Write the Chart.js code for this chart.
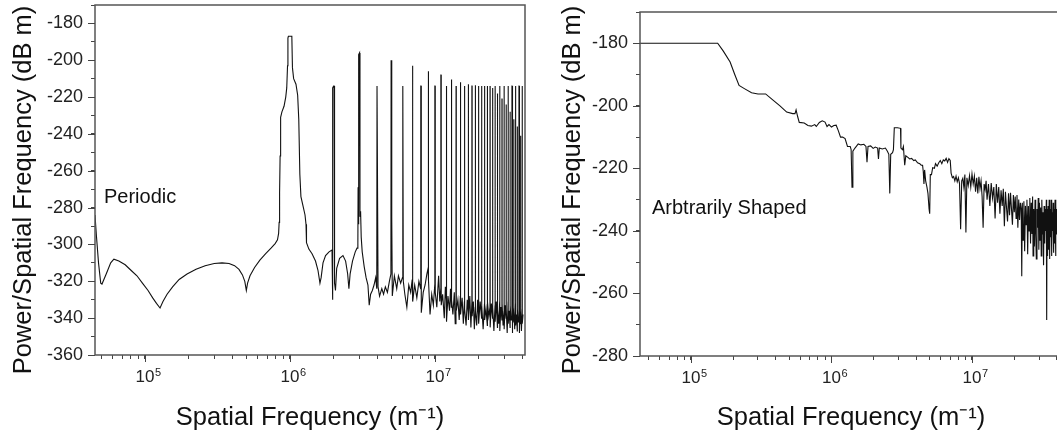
<!DOCTYPE html>
<html>
<head>
<meta charset="utf-8">
<script src="https://cdn.jsdelivr.net/npm/chart.js@4.4.1/dist/chart.umd.min.js"></script>
<style>
  html, body { margin: 0; padding: 0; background: #fff; overflow: hidden; width: 1057px; height: 439px; }
  canvas { position: absolute; top: 0; }
  #periodicChart { left: 0; }
  #shapedChart { left: 527px; }
</style>
</head>
<body>
<canvas id="periodicChart" width="532" height="439"></canvas>
<canvas id="shapedChart" width="545" height="439"></canvas>
<script>
// tick positions on the log axis (minor ticks 2..9 per decade) and the decade labels
const xTickValues = [5e4, 6e4, 7e4, 8e4, 9e4, 1e5, 2e5, 3e5, 4e5, 5e5, 6e5, 7e5, 8e5, 9e5,
  1e6, 2e6, 3e6, 4e6, 5e6, 6e6, 7e6, 8e6, 9e6, 1e7, 2e7, 3e7, 4e7];
const decadeValues = [1e5, 1e6, 1e7];
const decadeExponents = ["5", "6", "7"];

// left panel: periodic surface (spatial frequency in m^-1, power in dB m)
const periodicFreq = [
  4.52e4, 4.62e4, 4.78e4, 4.95e4, 5.05e4, 5.4e4, 5.8e4, 6.1e4, 6.6e4, 7.3e4, 8.0e4, 8.8e4, 9.6e4,
  1.05e5, 1.13e5, 1.2e5, 1.27e5, 1.33e5, 1.42e5, 1.55e5, 1.72e5, 1.95e5, 2.25e5, 2.6e5, 3.0e5, 3.4e5,
  3.8e5, 4.15e5, 4.45e5, 4.7e5, 4.88e5, 5.0e5, 5.1e5, 5.3e5, 5.7e5, 6.2e5, 6.8e5, 7.4e5, 7.9e5, 8.2e5,
  8.35e5, 8.42e5, 8.48e5, 8.55e5, 8.62e5, 8.8e5, 9.1e5, 9.35e5, 9.5e5, 9.62e5, 9.68e5, 9.75e5,
  1.03e6, 1.04e6, 1.06e6, 1.1e6, 1.13e6, 1.15e6, 1.17e6, 1.19e6, 1.23e6, 1.27e6, 1.29e6, 1.3e6,
  1.35e6, 1.42e6, 1.5e6, 1.56e6, 1.61e6, 1.64e6, 1.69e6, 1.76e6, 1.86e6, 1.95e6,
  1.965e6, 1.975e6, 2.0e6, 2.015e6, 2.03e6, 2.06e6, 2.1e6, 2.2e6, 2.32e6, 2.42e6, 2.5e6, 2.55e6,
  2.6e6, 2.7e6, 2.82e6, 2.9e6, 2.94e6, 2.95e6, 2.97e6, 2.985e6, 3.02e6, 3.04e6, 3.07e6, 3.1e6,
  3.15e6, 3.25e6, 3.35e6, 3.45e6, 3.52e6, 3.6e6, 3.7e6, 3.8e6, 3.9e6, 3.97e6,
  3.985e6, 4.02e6, 4.05e6, 4.15e6, 4.3e6, 4.42e6, 4.55e6, 4.7e6, 4.85e6, 4.97e6,
  4.985e6, 5.02e6, 5.05e6, 5.08e6, 5.25e6, 5.45e6, 5.6e6, 5.8e6, 5.97e6,
  5.985e6, 6.02e6, 6.05e6, 6.2e6, 6.4e6, 6.6e6, 6.8e6, 6.97e6,
  6.985e6, 7.02e6, 7.05e6, 7.25e6, 7.5e6, 7.75e6, 7.97e6,
  7.985e6, 8.02e6, 8.05e6, 8.3e6, 8.55e6, 8.8e6, 8.97e6,
  8.985e6, 9.02e6, 9.05e6, 9.25e6, 9.5e6, 9.75e6, 9.97e6,
  9.985e6, 1.002e7, 1.005e7, 1.03e7, 1.06e7, 1.08e7, 1.097e7,
  1.0985e7, 1.102e7, 1.105e7, 1.13e7, 1.16e7, 1.18e7, 1.197e7,
  1.1985e7, 1.202e7, 1.205e7, 1.23e7, 1.26e7, 1.28e7, 1.297e7,
  1.2985e7, 1.302e7, 1.305e7, 1.33e7, 1.36e7, 1.38e7, 1.397e7,
  1.3985e7, 1.402e7, 1.405e7, 1.44e7, 1.47e7, 1.497e7,
  1.4985e7, 1.502e7, 1.505e7, 1.54e7, 1.57e7, 1.597e7,
  1.5985e7, 1.602e7, 1.605e7, 1.64e7, 1.67e7, 1.697e7,
  1.6985e7, 1.702e7, 1.705e7, 1.74e7, 1.77e7, 1.797e7,
  1.7985e7, 1.802e7, 1.805e7, 1.84e7, 1.87e7, 1.897e7,
  1.8985e7, 1.902e7, 1.905e7, 1.94e7, 1.97e7, 1.997e7,
  1.9985e7, 2.002e7, 2.005e7, 2.05e7, 2.097e7,
  2.0985e7, 2.102e7, 2.105e7, 2.15e7, 2.197e7,
  2.1985e7, 2.202e7, 2.205e7, 2.25e7, 2.297e7,
  2.2985e7, 2.302e7, 2.305e7, 2.35e7, 2.397e7,
  2.3985e7, 2.402e7, 2.405e7, 2.45e7, 2.497e7,
  2.4985e7, 2.502e7, 2.505e7, 2.55e7, 2.597e7,
  2.5985e7, 2.602e7, 2.605e7, 2.65e7, 2.697e7,
  2.6985e7, 2.702e7, 2.705e7, 2.75e7, 2.797e7,
  2.7985e7, 2.802e7, 2.805e7, 2.85e7, 2.897e7,
  2.8985e7, 2.902e7, 2.905e7, 2.95e7, 2.997e7,
  2.9985e7, 3.002e7, 3.005e7, 3.05e7, 3.097e7,
  3.0985e7, 3.102e7, 3.105e7, 3.15e7, 3.197e7,
  3.1985e7, 3.202e7, 3.205e7, 3.25e7, 3.297e7,
  3.2985e7, 3.302e7, 3.305e7, 3.35e7, 3.397e7,
  3.3985e7, 3.402e7, 3.405e7, 3.45e7, 3.497e7,
  3.4985e7, 3.502e7, 3.505e7, 3.55e7, 3.597e7,
  3.5985e7, 3.602e7, 3.605e7, 3.65e7, 3.697e7,
  3.6985e7, 3.702e7, 3.705e7, 3.75e7, 3.797e7,
  3.7985e7, 3.802e7, 3.805e7, 3.85e7, 3.897e7,
  3.8985e7, 3.902e7, 3.905e7, 3.95e7, 3.997e7,
  3.9985e7, 4.002e7, 4.005e7, 4.05e7
];
const periodicPower = [
  -284, -295, -310, -321, -321.5, -316, -310, -308, -309, -311, -314, -317, -321,
  -325, -329, -332, -334.5, -331, -327, -323, -319, -316, -313.5, -311.5, -310.3, -310,
  -310.3, -311.5, -313.5, -316.5, -320, -325, -321, -317, -312.5, -308.5, -305, -302, -299.5, -297.5,
  -294, -288, -272, -252, -231, -228, -225, -220, -215, -203, -188, -187,
  -187, -204, -210, -213, -219, -232, -262, -274, -279, -284, -289, -299,
  -302.5, -305, -309, -314, -321, -318, -310, -306, -304, -303,
  -330, -215, -214, -214, -321, -325, -313, -307.5, -306, -309, -316, -324,
  -316, -309, -304, -302, -299, -269, -289, -197, -196, -285, -282, -296,
  -304, -312, -318, -322, -333, -327, -325, -322, -318, -324,
  -214, -214, -323, -328, -324, -327, -323, -326, -320, -316,
  -200, -200, -285, -328, -317, -324, -317, -321, -318,
  -214, -214, -320, -327, -334, -322, -326, -319,
  -203, -203, -331, -322, -329, -320, -324,
  -214, -214, -337, -326, -322, -316, -313,
  -206, -206, -319, -338, -327, -333, -322,
  -214, -214, -326, -334, -317, -331, -324,
  -208, -208, -333, -327, -340, -323, -330,
  -214, -214, -342, -328, -336, -324, -334,
  -210.5, -210.5, -330, -338, -326, -343, -327,
  -214, -214, -336, -330, -341, -328,
  -212, -212, -338, -329, -343, -331,
  -214, -214, -335, -344, -330, -337,
  -213, -213, -341, -328, -345, -332,
  -214, -214, -339, -331, -346, -334,
  -213.5, -213.5, -336, -344, -330, -338,
  -214, -214, -343, -331, -340,
  -214, -214, -333, -346, -332,
  -214, -214, -341, -335, -344,
  -214, -214, -331, -339, -334,
  -214, -214, -345, -332, -340,
  -215, -215, -334, -347, -333,
  -214, -214, -342, -331, -345,
  -218, -218, -336, -343, -331,
  -214, -214, -347, -334, -341,
  -221, -221, -332, -344, -336,
  -214, -214, -346, -333, -340,
  -224, -224, -335, -348, -331,
  -214, -214, -343, -336, -345,
  -228, -228, -333, -341, -337,
  -214, -214, -348, -334, -342,
  -232, -232, -336, -346, -332,
  -214, -214, -344, -338, -347,
  -236, -236, -335, -342, -339,
  -214, -214, -348, -336, -343,
  -241, -241, -337, -347, -335,
  -214, -214, -343, -338
];

// right panel: arbitrarily shaped surface
const shapedFreq = [
  4.3e4, 1.0e5, 1.55e5, 1.7e5, 1.9e5, 2.05e5, 2.2e5, 2.4e5, 2.7e5, 3.0e5, 3.4e5, 3.8e5, 4.3e5, 4.8e5,
  5.3e5, 5.5e5, 5.6e5, 5.75e5, 5.9e5, 6.4e5, 6.8e5, 7.2e5, 7.6e5, 7.8e5, 8.2e5, 8.6e5, 9.0e5, 9.3e5,
  9.6e5, 1.0e6, 1.04e6, 1.08e6, 1.12e6, 1.16e6, 1.2e6, 1.25e6, 1.3e6, 1.36e6, 1.38e6, 1.4e6, 1.42e6,
  1.47e6, 1.55e6, 1.62e6, 1.7e6, 1.76e6, 1.79e6, 1.82e6, 1.9e6, 1.98e6, 2.05e6, 2.13e6, 2.16e6, 2.19e6,
  2.3e6, 2.42e6, 2.5e6, 2.56e6, 2.6e6, 2.64e6, 2.72e6, 2.76e6, 2.8e6, 2.95e6, 3.1e6, 3.12e6, 3.2e6,
  3.25e6, 3.32e6, 3.38e6, 3.5e6, 3.6e6, 3.72e6, 3.85e6, 3.95e6, 4.1e6, 4.25e6, 4.35e6, 4.45e6, 4.5e6,
  4.55e6, 4.6e6, 4.68e6, 4.78e6, 4.86e6, 4.95e6, 5.0e6, 5.05e6, 5.15e6, 5.25e6, 5.4e6, 5.5e6, 5.65e6,
  5.8e6, 5.95e6, 6.1e6, 6.25e6, 6.4e6, 6.55e6, 6.7e6, 6.85e6, 7.0e6, 7.1e6, 7.25e6, 7.4e6, 7.55e6,
  7.7e6, 7.85e6, 8.0e6, 8.15e6, 8.3e6, 8.45e6, 8.6e6, 8.75e6, 8.9e6, 9.05e6, 9.2e6, 9.4e6, 9.6e6,
  9.8e6, 1.0e7, 1.02e7, 1.04e7, 1.06e7, 1.08e7, 1.1e7, 1.12e7, 1.14e7, 1.16e7, 1.18e7, 1.2e7, 1.22e7,
  1.24e7, 1.26e7, 1.28e7, 1.31e7, 1.34e7, 1.37e7, 1.4e7, 1.43e7, 1.46e7, 1.49e7, 1.52e7, 1.55e7,
  1.58e7, 1.61e7, 1.64e7, 1.67e7, 1.7e7, 1.73e7, 1.76e7, 1.79e7, 1.82e7, 1.85e7, 1.88e7, 1.91e7,
  1.94e7, 1.97e7, 2.0e7, 2.03e7, 2.06e7, 2.09e7, 2.12e7, 2.15e7, 2.18e7, 2.21e7, 2.24e7, 2.26e7,
  2.28e7, 2.31e7, 2.34e7, 2.37e7, 2.4e7, 2.43e7, 2.46e7, 2.49e7, 2.52e7, 2.55e7, 2.58e7, 2.61e7,
  2.64e7, 2.67e7, 2.7e7, 2.72e7, 2.75e7, 2.78e7, 2.81e7, 2.84e7, 2.87e7, 2.9e7, 2.93e7, 2.96e7,
  2.99e7, 3.02e7, 3.05e7, 3.08e7, 3.11e7, 3.14e7, 3.17e7, 3.2e7, 3.23e7, 3.26e7, 3.29e7, 3.32e7,
  3.35e7, 3.38e7, 3.4e7, 3.42e7, 3.45e7, 3.48e7, 3.51e7, 3.54e7, 3.57e7, 3.6e7, 3.63e7, 3.66e7,
  3.69e7, 3.72e7, 3.75e7, 3.78e7, 3.81e7, 3.84e7, 3.87e7, 3.9e7, 3.93e7, 3.96e7, 3.99e7, 4.02e7,
  4.06e7, 4.1e7, 4.15e7, 4.2e7, 4.3e7
];
const shapedPower = [
  -180, -180, -180, -182.5, -186, -190, -193.5, -194.5, -195.8, -196.2, -196.2, -198, -200, -202,
  -202.5, -202.5, -201.3, -203.5, -205.3, -205.5, -206.3, -206.5, -206, -206.6, -205.3, -204.8, -205.2, -206.6,
  -206, -206.8, -206.3, -206.2, -208, -210, -210, -210.5, -213, -213, -214, -226, -214.5,
  -213.5, -212.2, -212.5, -212.3, -213, -218, -213, -212.8, -213.6, -213.2, -213.5, -217, -213.5,
  -213.8, -213.5, -214.5, -215.5, -228, -215.5, -215, -214, -207, -207, -207.2, -213.5, -214,
  -213, -219, -216, -216.5, -217, -216.8, -217.5, -217.3, -218.2, -218.5, -219, -219, -221,
  -225, -220.5, -224, -226, -228, -233, -234.5, -222, -222, -219.8, -220, -218.5, -219.3,
  -218.2, -217.5, -218.5, -217.3, -217.6, -216.8, -218.1, -216.9, -217.5, -221.5, -223, -222.6, -224,
  -222.5, -224.3, -223, -224.8, -239.5, -224, -223.2, -226, -222, -240.5, -223, -225.5, -222.3,
  -226, -221.8, -225, -222.5, -227.5, -223, -228, -222.7, -226.5, -224, -229, -239, -225,
  -226.8, -224, -230, -225, -232, -224.7, -229.5, -226, -236, -225, -231, -226,
  -234.5, -227, -232, -226.5, -238.5, -227.5, -232.5, -237, -228, -235, -227.8, -233,
  -238, -228.5, -234, -229, -236, -228.5, -239, -230, -236.5, -231, -233, -254.5,
  -231, -243, -230.5, -246.5, -232, -238, -230, -247.5, -232, -240, -229.5, -244,
  -231, -241, -229, -248, -233, -245, -230, -241, -249, -233, -239, -229.5,
  -246, -231, -243, -232.5, -248, -230, -241, -234, -251, -232, -244, -233,
  -240, -230, -268.5, -233, -248, -232, -246, -230, -249, -233, -242, -230,
  -248, -234, -240, -231, -247, -233, -244, -230, -248, -232, -241, -233,
  -236, -229, -240, -233, -236
];

const fontFamily = '"Liberation Sans", Arial, Helvetica, sans-serif';
const yTitle = "Power/Spatial Frequency (dB m)";
Chart.defaults.font.family = fontFamily;

// closed frame, longer major ticks, decade exponents, y title and the panel caption
function framePlugin(cfg) {
  return {
    id: "frame",
    afterDraw(chart) {
      const { ctx, chartArea } = chart;
      const xs = chart.scales.x;
      const ys = chart.scales.y;
      ctx.save();
      ctx.strokeStyle = "#555";
      ctx.lineWidth = 1.5;
      ctx.strokeRect(chartArea.left, chartArea.top, chartArea.right - chartArea.left, chartArea.bottom - chartArea.top);

      ctx.strokeStyle = "#444";
      ctx.lineWidth = 1;
      ctx.beginPath();
      decadeValues.forEach((v) => {
        const px = Math.round(xs.getPixelForValue(v)) + 0.5;
        ctx.moveTo(px, chartArea.bottom);
        ctx.lineTo(px, chartArea.bottom + 7);
      });
      ys.ticks.forEach((t) => {
        if (t.value % 20 !== 0) return;
        const py = Math.round(ys.getPixelForValue(t.value)) + 0.5;
        ctx.moveTo(chartArea.left - 7, py);
        ctx.lineTo(chartArea.left, py);
      });
      ctx.stroke();

      ctx.fillStyle = "#222";
      ctx.font = "17px " + fontFamily;
      const half = ctx.measureText("10").width / 2;
      ctx.font = "11px " + fontFamily;
      ctx.textAlign = "left";
      ctx.textBaseline = "alphabetic";
      decadeValues.forEach((v, i) => {
        ctx.fillText(decadeExponents[i], xs.getPixelForValue(v) + half + 0.5, chartArea.bottom + 21);
      });

      ctx.fillStyle = "#111";
      ctx.font = "20px " + fontFamily;
      ctx.fillText(cfg.caption, cfg.captionX, cfg.captionY);

      ctx.font = "25.5px " + fontFamily;
      ctx.textAlign = "center";
      ctx.textBaseline = "middle";
      ctx.translate(cfg.yTitleX, 190);
      ctx.rotate(-Math.PI / 2);
      ctx.fillText(yTitle, 0, 0);
      ctx.restore();
    },
  };
}

function makeChart(id, cfg) {
  const ctx = document.getElementById(id).getContext("2d");
  const points = cfg.freq.map((f, i) => ({ x: f, y: cfg.power[i] }));
  return new Chart(ctx, {
    type: "line",
    data: {
      datasets: [
        {
          data: points,
          borderColor: "#111",
          borderWidth: 1.1,
          pointRadius: 0,
          tension: 0,
          fill: false,
        },
      ],
    },
    options: {
      responsive: false,
      animation: false,
      devicePixelRatio: 1,
      layout: { padding: { left: 0, right: cfg.padRight, top: cfg.top, bottom: 0 } },
      plugins: { legend: { display: false }, tooltip: { enabled: false } },
      scales: {
        x: {
          type: "logarithmic",
          min: cfg.xMin,
          max: cfg.xMax,
          afterBuildTicks: (scale) => {
            scale.ticks = xTickValues.map((v) => ({ value: v }));
          },
          afterFit: (scale) => {
            scale.height = cfg.xAxisHeight;
            scale.paddingLeft = 0;
            scale.paddingRight = 0;
          },
          border: { display: false },
          grid: { drawOnChartArea: false, tickLength: 4, tickColor: "#444", tickWidth: 1 },
          ticks: {
            autoSkip: false,
            maxRotation: 0,
            padding: 8,
            color: "#222",
            font: { size: 17 },
            callback: (v) => (decadeValues.indexOf(v) >= 0 ? "10" : ""),
          },
          title: {
            display: true,
            text: "Spatial Frequency (m\u207B\u00B9)",
            color: "#111",
            font: { size: 25.5 },
            padding: { top: 0, bottom: 6 },
          },
        },
        y: {
          min: cfg.yMin,
          max: cfg.yMax,
          afterFit: (scale) => {
            scale.width = cfg.yAxisWidth;
            scale.paddingTop = 0;
            scale.paddingBottom = 0;
          },
          border: { display: false },
          grid: { drawOnChartArea: false, tickLength: 4, tickColor: "#444", tickWidth: 1 },
          ticks: {
            stepSize: 10,
            autoSkip: false,
            padding: 8,
            color: "#222",
            font: { size: 18 },
            callback: (v) => (v % 20 === 0 ? String(v) : ""),
          },
          title: { display: false },
        },
      },
    },
    plugins: [framePlugin(cfg)],
  });
}

makeChart("periodicChart", {
  freq: periodicFreq,
  power: periodicPower,
  xMin: 4.52e4,
  xMax: 4.18e7,
  yMin: -360,
  yMax: -170,
  top: 5,
  padRight: 7,
  xAxisHeight: 84,
  yAxisWidth: 95,
  yTitleX: 24,
  caption: "Periodic",
  captionX: 104,
  captionY: 203,
});

makeChart("shapedChart", {
  freq: shapedFreq,
  power: shapedPower,
  xMin: 4.34e4,
  xMax: 4.37e7,
  yMin: -280,
  yMax: -170,
  top: 12,
  padRight: 10,
  xAxisHeight: 83,
  yAxisWidth: 113,
  yTitleX: 46,
  caption: "Arbtrarily Shaped",
  captionX: 125,
  captionY: 214,
});
</script>
</body>
</html>
